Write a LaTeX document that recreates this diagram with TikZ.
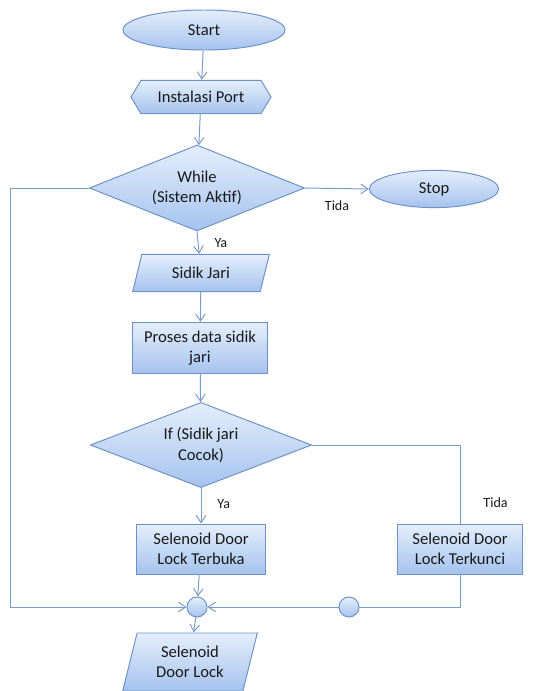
\documentclass[tikz,border=0pt]{standalone}
\usepackage{fontspec}
\setmainfont{Carlito}
\usepackage{tikz}
\usetikzlibrary{positioning}
\usetikzlibrary{arrows.meta, shapes.geometric, shapes.symbols}

\definecolor{flowline}{HTML}{7A9CCB}
\definecolor{flowedge}{HTML}{6F92C6}
\definecolor{flowtop}{HTML}{E4EEFB}
\definecolor{flowbot}{HTML}{A5C3EE}

\begin{document}
\begin{tikzpicture}[x=0.025cm, y=-0.025cm]
 \tikzset{
 	flow/.style={draw=flowedge, line width=0.7pt,
 		top color=flowtop, bottom color=flowbot,
 		font=\fontsize{11.8}{14.5}\selectfont, text=black!90,
 		align=center, inner sep=0pt},
 	terminal/.style={flow, ellipse},
 	process/.style={flow, rectangle},
 	decision/.style={flow, diamond, aspect=2.5},
 	prepbox/.style={flow, signal, signal to=east and west, signal pointer angle=118},
 	iobox/.style={flow, trapezium, trapezium stretches=true,
 		trapezium left angle=#1, trapezium right angle=180-#1},
 	joint/.style={flow, circle, minimum size=5mm},
 	line/.style={draw=flowline, line width=0.7pt},
 	arrow/.style={line, -{Straight Barb[length=1.8mm, width=2.4mm]}},
 	lbl/.style={font=\fontsize{10}{12}\selectfont, text=black!90}
 }
 \useasboundingbox (0,0) rectangle (536,691);

 % nodes
 \node[terminal, minimum width=40.5mm, minimum height=10mm] (start) at (204,30) {Start};
 \node[prepbox, minimum width=35mm, minimum height=8.3mm] (port) at (201,97) {Instalasi Port};
 \node[decision, minimum width=53.8mm, minimum height=21.5mm] (while) at (197,188) {While\\(Sistem Aktif)};
 \node[terminal, minimum width=32.3mm, minimum height=9.3mm] (stop) at (434,189) {Stop};
 \node[iobox=69, minimum width=34.3mm, minimum height=9.3mm] (sidik) at (201,273) {Sidik Jari};
 \node[process, minimum width=33.8mm, minimum height=12.8mm] (proses) at (200,348) {Proses data sidik\\jari};
 \node[decision, minimum width=55.3mm, minimum height=21.3mm] (if) at (201,445) {If (Sidik jari\\Cocok)};
 \node[process, minimum width=32mm, minimum height=12.5mm] (buka) at (201,549) {Selenoid Door\\Lock Terbuka};
 \node[process, minimum width=31.3mm, minimum height=12.5mm] (kunci) at (460,549) {Selenoid Door\\Lock Terkunci};
 \node[joint] (merge) at (197,607) {};
 \node[joint] (conn) at (349,607) {};
 \node[iobox=74, minimum width=33.8mm, minimum height=14.5mm] (lock) at (190,662) {Selenoid\\Door Lock};
 \coordinate (loop) at (10,188);

 % connectors
 \draw[arrow] (start) -- (port);
 \draw[arrow] (port) -- (while);
 \draw[arrow] (while.east) -- node[lbl, pos=0.5, below=5pt] {Tida} (stop.west);
 \draw[arrow] (while.south) -- node[lbl, right=8pt, pos=0.5] {Ya} (sidik);
 \draw[arrow] (sidik) -- (proses);
 \draw[arrow] (proses) -- (if);
 \draw[arrow] (if.south) -- node[lbl, right=8pt, pos=0.45] {Ya} (buka);
 \draw[line] (if.east) -| node[lbl, pos=0.87, right=13pt] {Tida} (kunci.north);
 \draw[arrow] (buka) -- (merge);
 \draw[arrow] (while.west) -- (loop) |- (merge.west);
 \draw[line] (kunci.south) |- (conn.east);
 \draw[arrow] (conn) -- (merge.east);
 \draw[arrow] (merge) -- (lock);
\end{tikzpicture}
\end{document}
